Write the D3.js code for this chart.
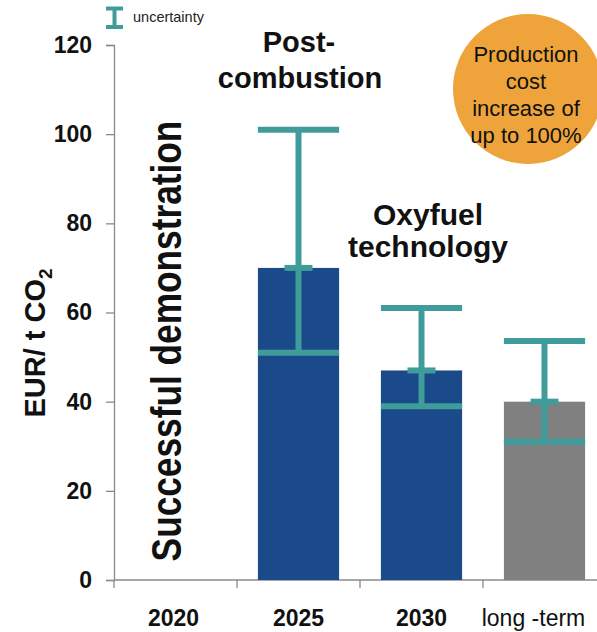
<!DOCTYPE html>
<html>
<head>
<meta charset="utf-8">
<script src="https://cdn.jsdelivr.net/npm/d3@7"></script>
<style>
  html, body { margin: 0; padding: 0; background: #fff; }
  svg { display: block; font-family: "Liberation Sans", Arial, sans-serif; }
</style>
</head>
<body>
<svg id="chart" width="597" height="632"></svg>
<script>
// CO2 capture cost by period
const categories = ["2020", "2025", "2030", "long -term"];
const costs = [null, 70, 47, 40];          // bar height, EUR / t CO2
const uncertaintyHigh = [null, 101, 61, 53.6];
const uncertaintyLow = [null, 51, 39, 31];
const yTicks = [0, 20, 40, 60, 80, 100, 120];

const svg = d3.select("#chart");
const teal = "#3f9c9b";
const blue = "#1b4a8b";
const grey = "#808080";
const axisGrey = "#8a8a8a";

const x = d3.scaleBand().domain(categories).range([114, 606]).paddingInner(0.34).paddingOuter(0.17);
const y = d3.scaleLinear().domain([0, 120]).range([580, 45]);

// Y axis
const yAxis = svg.append("g")
  .attr("transform", "translate(114,0)")
  .call(d3.axisLeft(y).tickValues(yTicks).tickSize(8).tickPadding(14));
yAxis.select(".domain").attr("stroke", axisGrey).attr("stroke-width", 1.3);
yAxis.selectAll(".tick line").attr("stroke", axisGrey).attr("stroke-width", 1.3);
yAxis.selectAll(".tick text")
  .attr("font-size", 23).attr("font-weight", "bold").attr("fill", "#111")
  .attr("font-family", "Liberation Sans, Arial, sans-serif");

// X axis: ticks sit on the band boundaries
const xAxisG = svg.append("g");
xAxisG.append("line")
  .attr("x1", 114).attr("x2", 597).attr("y1", y(0)).attr("y2", y(0))
  .attr("stroke", axisGrey).attr("stroke-width", 1.3);
const step = x.step();
const boundaries = categories.map((c, i) => x(c) - x.paddingInner() * step / 2 - (i === 0 ? (x.paddingOuter() - x.paddingInner() / 2) * step : 0));
xAxisG.selectAll("line.tk").data(boundaries).join("line")
  .attr("class", "tk")
  .attr("x1", d => d).attr("x2", d => d)
  .attr("y1", y(0)).attr("y2", y(0) + 8)
  .attr("stroke", axisGrey).attr("stroke-width", 1.3);
xAxisG.selectAll("text").data(categories).join("text")
  .attr("x", (d, i) => i === 0 ? x(d) + x.bandwidth() / 2 - 2 : x(d) + x.bandwidth() / 2 + (d === "long -term" ? -11 : 0))
  .attr("y", 626)
  .attr("text-anchor", "middle")
  .attr("font-size", 23)
  .attr("font-weight", d => d === "long -term" ? "normal" : "bold")
  .attr("fill", "#111")
  .text(d => d);

// Bars
const barData = categories.map((c, i) => ({ c, v: costs[i], hi: uncertaintyHigh[i], lo: uncertaintyLow[i], i }))
  .filter(d => d.v != null);
svg.selectAll("rect.bar").data(barData).join("rect")
  .attr("class", "bar")
  .attr("x", d => x(d.c))
  .attr("width", x.bandwidth())
  .attr("y", d => y(d.v))
  .attr("height", d => y(0) - y(d.v))
  .attr("fill", d => d.c === "long -term" ? grey : blue);

// Uncertainty ranges
const eb = svg.selectAll("g.err").data(barData).join("g").attr("class", "err");
eb.append("line")
  .attr("x1", d => x(d.c) + x.bandwidth() / 2).attr("x2", d => x(d.c) + x.bandwidth() / 2)
  .attr("y1", d => y(d.hi)).attr("y2", d => y(d.lo))
  .attr("stroke", teal).attr("stroke-width", 6);
eb.append("line")
  .attr("x1", d => x(d.c)).attr("x2", d => x(d.c) + x.bandwidth())
  .attr("y1", d => y(d.hi)).attr("y2", d => y(d.hi))
  .attr("stroke", teal).attr("stroke-width", 6);
eb.append("line")
  .attr("x1", d => x(d.c)).attr("x2", d => x(d.c) + x.bandwidth())
  .attr("y1", d => y(d.lo)).attr("y2", d => y(d.lo))
  .attr("stroke", teal).attr("stroke-width", 6);
eb.append("line")
  .attr("x1", d => x(d.c) + x.bandwidth() / 2 - 14).attr("x2", d => x(d.c) + x.bandwidth() / 2 + 14)
  .attr("y1", d => y(d.v)).attr("y2", d => y(d.v))
  .attr("stroke", teal).attr("stroke-width", 6);

// Legend
const lg = svg.append("g");
lg.append("line").attr("x1", 114.5).attr("x2", 114.5).attr("y1", 8).attr("y2", 27).attr("stroke", teal).attr("stroke-width", 4);
lg.append("line").attr("x1", 106).attr("x2", 123).attr("y1", 8.5).attr("y2", 8.5).attr("stroke", teal).attr("stroke-width", 4);
lg.append("line").attr("x1", 106).attr("x2", 123).attr("y1", 27).attr("y2", 27).attr("stroke", teal).attr("stroke-width", 4);
lg.append("text").attr("x", 133).attr("y", 22).attr("font-size", 14.5).attr("fill", "#222").text("uncertainty");

// Y axis title
const yt = svg.append("text")
  .attr("transform", "translate(45,343) rotate(-90)")
  .attr("text-anchor", "middle")
  .attr("font-size", 29).attr("font-weight", "bold").attr("fill", "#111");
yt.append("tspan").text("EUR/ t CO");
yt.append("tspan").attr("font-size", 19).attr("dy", 7).text("2");

// Annotations
svg.append("text")
  .attr("transform", `translate(181,341) rotate(-90) scale(0.82,1)`)
  .attr("text-anchor", "middle").attr("font-size", 43).attr("font-weight", "bold").attr("fill", "#111")
  .text("Successful demonstration");

const post = svg.append("text").attr("text-anchor", "middle").attr("font-size", 29).attr("font-weight", "bold").attr("fill", "#111");
post.append("tspan").attr("x", 299).attr("y", 52).text("Post-");
post.append("tspan").attr("x", 300).attr("y", 88).text("combustion");

const oxy = svg.append("text").attr("text-anchor", "middle").attr("font-size", 30).attr("font-weight", "bold").attr("fill", "#111");
oxy.append("tspan").attr("x", 428).attr("y", 225).text("Oxyfuel");
oxy.append("tspan").attr("x", 428).attr("y", 257).text("technology");

svg.append("circle").attr("cx", 528).attr("cy", 89).attr("r", 75).attr("fill", "#eea43b");
const circ = svg.append("text").attr("text-anchor", "middle").attr("font-size", 22).attr("fill", "#111");
["Production", "cost", "increase of", "up to 100%"].forEach((t, i) => {
  circ.append("tspan").attr("x", 526).attr("y", 62 + i * 27).text(t);
});
</script>
</body>
</html>
